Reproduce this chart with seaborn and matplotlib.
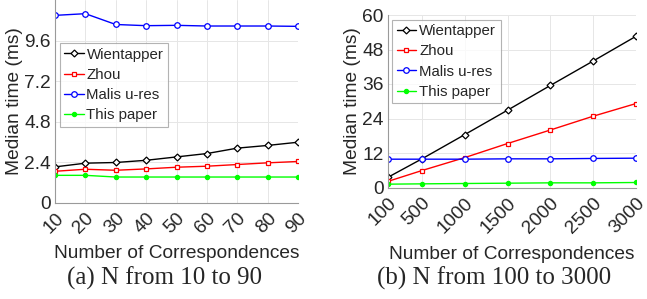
import matplotlib
matplotlib.use("Agg")
import matplotlib.pyplot as plt
import seaborn as sns
import pandas as pd

# ---- data ----
n_small = [10, 20, 30, 40, 50, 60, 70, 80, 90]
wien_small = [2.12, 2.34, 2.38, 2.51, 2.71, 2.91, 3.23, 3.39, 3.58]
zhou_small = [1.86, 1.98, 1.92, 2.00, 2.10, 2.16, 2.26, 2.36, 2.44]
malis_small = [11.09, 11.19, 10.55, 10.48, 10.50, 10.46, 10.46, 10.46, 10.44]
ours_small = [1.62, 1.62, 1.52, 1.52, 1.52, 1.52, 1.52, 1.52, 1.52]

n_large = [100, 500, 1000, 1500, 2000, 2500, 3000]
wien_large = [3.5, 9.97, 18.4, 26.9, 35.5, 44.0, 52.6]
zhou_large = [2.1, 5.9, 10.4, 15.3, 20.0, 24.8, 29.2]
malis_large = [9.85, 9.85, 9.85, 9.97, 9.97, 10.1, 10.2]
ours_large = [1.16, 1.27, 1.39, 1.50, 1.62, 1.62, 1.74]

series_names = ["Wientapper", "Zhou", "Malis u-res", "This paper"]
yticks_small = [0, 2.4, 4.8, 7.2, 9.6]
yticks_large = [0, 12, 24, 36, 48, 60]
captions = ["(a) N from 10 to 90", "(b) N from 100 to 3000"]

styles = {
    "Wientapper": dict(color="#000000", marker="D", ms=3.5, mfc="white"),
    "Zhou": dict(color="#FF0000", marker="s", ms=3.5, mfc="white"),
    "Malis u-res": dict(color="#0000FF", marker="o", ms=4, mfc="white"),
    "This paper": dict(color="#00FF00", marker="o", ms=3, mfc="#00FF00"),
}

sns.set_style("white")
plt.rcParams["font.family"] = ["Liberation Sans", "DejaVu Sans"]

fig = plt.figure(figsize=(6.47, 2.99), dpi=100)
ax1 = fig.add_axes([55 / 647, 1 - 202.7 / 299, 243 / 647, 202.7 / 299])
ax2 = fig.add_axes([387.7 / 647, 1 - 187.5 / 299, 248.3 / 647, 172.5 / 299])


def draw(ax, xs, ys_list, yticks, ylim, xlim, xlabelpad):
    for name, ys in zip(series_names, ys_list):
        df = pd.DataFrame({"N": xs, "t": ys})
        st = styles[name]
        sns.lineplot(data=df, x="N", y="t", ax=ax, color=st["color"],
                     marker=st["marker"], markersize=st["ms"],
                     markerfacecolor=st["mfc"], markeredgecolor=st["color"],
                     markeredgewidth=0.9, linewidth=1.0, label=name)
    ax.set_xlim(*xlim)
    ax.set_ylim(*ylim)
    ax.set_xticks(xs)
    ax.set_xticklabels([str(v) for v in xs], rotation=45, ha="right",
                       rotation_mode="anchor")
    ax.set_yticks(yticks)
    ax.set_yticklabels([("%g" % v) for v in yticks])
    ax.grid(True, color="#e6e6e6", linewidth=0.7)
    ax.set_axisbelow(True)
    for s in ["top", "right"]:
        ax.spines[s].set_visible(False)
    for s in ["left", "bottom"]:
        ax.spines[s].set_color("#9a9a9a")
        ax.spines[s].set_linewidth(0.8)
    ax.tick_params(axis="both", direction="in", length=3, color="#9a9a9a",
                   labelsize=13.8, labelcolor="#262626", pad=3)
    ax.tick_params(axis="x", pad=5)
    ax.set_xlabel("Number of Correspondences", fontsize=13.8, color="#262626",
                  labelpad=xlabelpad)
    ax.set_ylabel("Median time (ms)", fontsize=13.8, color="#262626",
                  labelpad=0.5)
    leg = ax.legend(loc="upper left", fontsize=10.8, frameon=True, fancybox=False,
                    handlelength=1.3, handletextpad=0.2, borderpad=0.3,
                    labelspacing=0.42, borderaxespad=0.3)
    leg.get_frame().set_edgecolor("#a0a0a0")
    leg.get_frame().set_linewidth(0.8)
    return leg


leg1 = draw(ax1, n_small, [wien_small, zhou_small, malis_small, ours_small],
            yticks_small, (0, 12), (10, 90), 6)
leg1.set_bbox_to_anchor((0.0, 0.81), transform=ax1.transAxes)
leg2 = draw(ax2, n_large, [wien_large, zhou_large, malis_large, ours_large],
            yticks_large, (0, 60), (100, 3000), 7)
leg2.set_bbox_to_anchor((0.0, 1.0), transform=ax2.transAxes)

fig.text(165 / 647, 1 - 285 / 299, captions[0], fontsize=18,
         family=["Liberation Serif", "DejaVu Serif"], ha="center", va="baseline")
fig.text(494 / 647, 1 - 285 / 299, captions[1], fontsize=18,
         family=["Liberation Serif", "DejaVu Serif"], ha="center", va="baseline")

fig.savefig("out.png", dpi=100)
